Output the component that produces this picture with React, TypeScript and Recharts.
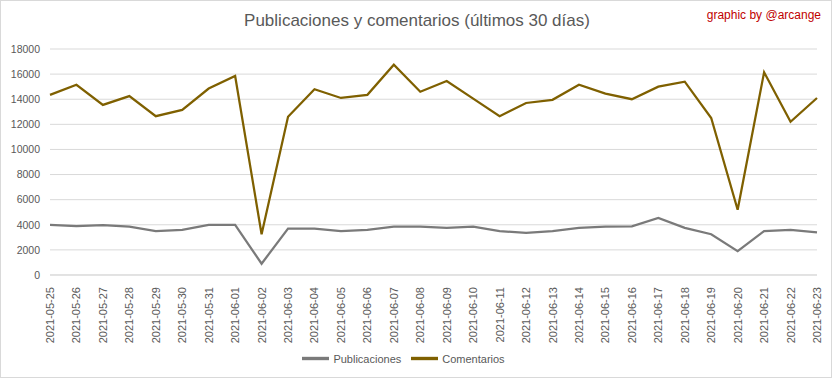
import { CartesianGrid, Legend, Line, LineChart, XAxis, YAxis } from 'recharts';

const fechas = [
  '2021-05-25', '2021-05-26', '2021-05-27', '2021-05-28', '2021-05-29', '2021-05-30',
  '2021-05-31', '2021-06-01', '2021-06-02', '2021-06-03', '2021-06-04', '2021-06-05',
  '2021-06-06', '2021-06-07', '2021-06-08', '2021-06-09', '2021-06-10', '2021-06-11',
  '2021-06-12', '2021-06-13', '2021-06-14', '2021-06-15', '2021-06-16', '2021-06-17',
  '2021-06-18', '2021-06-19', '2021-06-20', '2021-06-21', '2021-06-22', '2021-06-23',
];

const publicaciones = [
  4000, 3900, 3980, 3850, 3500, 3600, 4000, 4000, 900, 3700, 3700, 3500,
  3600, 3850, 3850, 3750, 3850, 3500, 3350, 3500, 3750, 3850, 3870, 4550,
  3750, 3250, 1900, 3500, 3600, 3400,
];

const comentarios = [
  14350, 15150, 13550, 14250, 12650, 13150, 14850, 15850, 3250, 12600, 14800, 14100,
  14350, 16750, 14600, 15450, 14050, 12650, 13700, 13950, 15150, 14450, 14000, 15000,
  15400, 12500, 5200, 16150, 12200, 14100,
];

const yTicks = [0, 2000, 4000, 6000, 8000, 10000, 12000, 14000, 16000, 18000];
const seriesOrder = ['Publicaciones', 'Comentarios'];

const data = fechas.map((fecha, i) => ({
  fecha,
  Publicaciones: publicaciones[i],
  Comentarios: comentarios[i],
}));

const FONT = '"Liberation Sans", Arial, sans-serif';
const TEXT = '#595959';

function FechaTick({ x, y, payload }: any) {
  return (
    <text
      x={x}
      y={y}
      transform={`rotate(-90 ${x} ${y})`}
      textAnchor="end"
      dominantBaseline="central"
      fill={TEXT}
      fontSize={11}
      fontFamily={FONT}
    >
      {payload.value}
    </text>
  );
}

export default function App() {
  return (
    <div
      style={{
        position: 'relative',
        width: 832,
        height: 378,
        boxSizing: 'border-box',
        border: '1px solid #d9d9d9',
        background: '#fff',
        fontFamily: FONT,
      }}
    >
      <style>{'body{margin:0}'}</style>
      <div
        style={{
          position: 'absolute',
          top: 10,
          left: 0,
          width: 832,
          textAlign: 'center',
          fontSize: 17,
          color: TEXT,
        }}
      >
        Publicaciones y comentarios (últimos 30 días)
      </div>
      <div style={{ position: 'absolute', top: 7, right: 10, fontSize: 12, color: '#c00000' }}>
        graphic by @arcange
      </div>
      <div style={{ position: 'absolute', top: -1, left: -1 }}>
        <LineChart
          width={832}
          height={378}
          data={data}
          margin={{ top: 49, right: 15, left: 0, bottom: 6 }}
        >
          <CartesianGrid vertical={false} stroke="#d9d9d9" />
          <XAxis
            dataKey="fecha"
            interval={0}
            axisLine={{ stroke: '#d9d9d9' }}
            tickLine={false}
            height={70}
            tick={<FechaTick />}
            tickMargin={6}
          />
          <YAxis
            domain={[0, 18000]}
            ticks={yTicks}
            width={50}
            axisLine={false}
            tickLine={false}
            tickMargin={4}
            tick={{ fill: TEXT, fontSize: 10.5, fontFamily: FONT }}
            interval={0}
          />
          <Legend
            verticalAlign="bottom"
            iconType="plainline"
            iconSize={27}
            itemSorter={(item: any) => seriesOrder.indexOf(item.value)}
            formatter={(v: string) => (
              <span style={{ color: TEXT, fontSize: 11, fontFamily: FONT }}>{v}</span>
            )}
          />
          <Line
            type="linear"
            dataKey="Publicaciones"
            stroke="#7a7a7a"
            strokeWidth={2.25}
            dot={false}
            isAnimationActive={false}
          />
          <Line
            type="linear"
            dataKey="Comentarios"
            stroke="#7f6000"
            strokeWidth={2.25}
            dot={false}
            isAnimationActive={false}
          />
        </LineChart>
      </div>
    </div>
  );
}
